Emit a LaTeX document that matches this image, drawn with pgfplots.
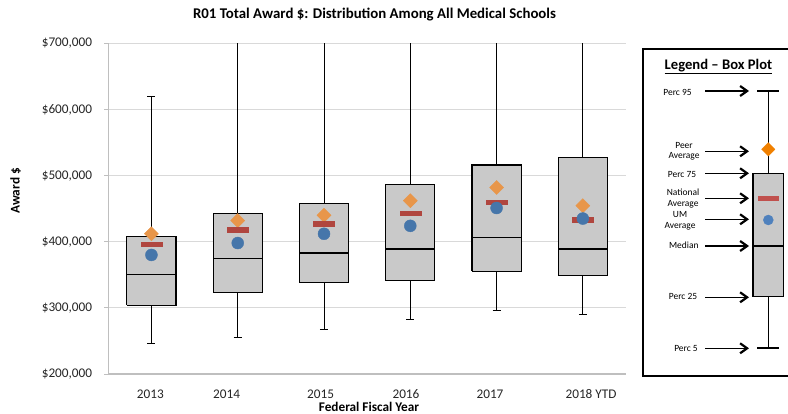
\documentclass[border=0pt]{standalone}
\usepackage{fontspec}
\setmainfont{Carlito}
\usepackage{pgfplots}
\usepackage{pgfplotstable}
\pgfplotsset{compat=1.18}
\usetikzlibrary{arrows.meta}
\definecolor{boxgray}{HTML}{C9C9C9}
\definecolor{peer}{HTML}{E8964A}
\definecolor{natl}{HTML}{B0463F}
\definecolor{um}{HTML}{4676AA}
\definecolor{gridc}{HTML}{D9D9D9}
\definecolor{axisc}{HTML}{BFBFBF}
\definecolor{lpeer}{HTML}{F08000}
\definecolor{lnatl}{HTML}{C0504D}
\definecolor{lum}{HTML}{4F81BD}
% values in thousands of dollars
% perc5, perc25, median, perc75, perc95 (perc95 beyond 700 for 2014-2018 YTD)
\pgfplotstableread{
x peer natl um
0 412 396.5 380
1 432 418 398
2 440 427 412
3 462 443 424
4 482 460 451
5 454.5 433 435
}\avgdata
\begin{document}
\begin{tikzpicture}
\path[use as bounding box] (0,0) rectangle (788bp,414bp);
\begin{axis}[
  at={(108.3bp,40bp)}, anchor=south west,
  width=517.7bp, height=330.7bp, scale only axis,
  xmin=-0.5, xmax=5.5, ymin=200, ymax=700,
  axis lines*=left,
  axis line style={axisc, line width=1.2bp},
  ymajorgrids, grid style={gridc, line width=1bp},
  ytick={200,300,400,500,600,700},
  yticklabels={{\$200,000},{\$300,000},{\$400,000},{\$500,000},{\$600,000},{\$700,000}},
  scaled y ticks=false,
  ytick style={axisc, line width=0.8bp},
  major tick length=4bp, tick align=outside,
  yticklabel style={anchor=east, inner sep=0pt, xshift=-12bp, font=\fontsize{13.3}{16}\selectfont, text=black!85},
  xtick={-0.012,0.872,1.961,2.950,3.924,5.095},
  xticklabels={2013,2014,2015,2016,2017,2018 YTD},
  xtick style={draw=none},
  xticklabel style={anchor=base, inner sep=0pt, yshift=-21bp, font=\fontsize{13.3}{16}\selectfont, text=black!85},
  unbounded coords=jump,
]
% whiskers (perc5 and perc95) with caps
\addplot[black, line width=1bp, mark=none] coordinates {
 (0,246) (0,619) (0,nan) (-0.0465,619) (0.0465,619) (0,nan) (-0.0465,246) (0.0465,246) (0,nan)
 (1,254.5) (1,780) (1,nan) (0.9535,254.5) (1.0465,254.5) (1,nan)
 (2,267) (2,800) (2,nan) (1.9535,267) (2.0465,267) (2,nan)
 (3,282) (3,820) (3,nan) (2.9535,282) (3.0465,282) (3,nan)
 (4,295.5) (4,840) (4,nan) (3.9535,295.5) (4.0465,295.5) (4,nan)
 (5,290) (5,860) (5,nan) (4.9535,290) (5.0465,290)
};
% boxes (perc25 to perc75)
\addplot[draw=black, fill=boxgray, line width=1.1bp, mark=none] coordinates {(-0.285,303.6) (0.285,303.6) (0.285,408) (-0.285,408) (-0.285,303.6)};
\addplot[draw=black, fill=boxgray, line width=1.1bp, mark=none] coordinates {(0.715,323) (1.285,323) (1.285,443) (0.715,443) (0.715,323)};
\addplot[draw=black, fill=boxgray, line width=1.1bp, mark=none] coordinates {(1.715,339) (2.285,339) (2.285,458) (1.715,458) (1.715,339)};
\addplot[draw=black, fill=boxgray, line width=1.1bp, mark=none] coordinates {(2.715,341) (3.285,341) (3.285,486) (2.715,486) (2.715,341)};
\addplot[draw=black, fill=boxgray, line width=1.1bp, mark=none] coordinates {(3.715,355) (4.285,355) (4.285,516) (3.715,516) (3.715,355)};
\addplot[draw=black, fill=boxgray, line width=1.1bp, mark=none] coordinates {(4.715,349) (5.285,349) (5.285,527) (4.715,527) (4.715,349)};
% medians
\addplot[black, line width=1.1bp, mark=none] coordinates {
 (-0.285,351) (0.285,351) (0,nan) (0.715,375) (1.285,375) (1,nan) (1.715,383) (2.285,383) (2,nan)
 (2.715,389) (3.285,389) (3,nan) (3.715,406) (4.285,406) (4,nan) (4.715,389) (5.285,389)
};
\addplot[only marks, mark=square*, mark size=4.95bp, color=peer, mark options={rotate=45, draw=none, fill=peer}] table[x=x, y=peer] {\avgdata};
\addplot[only marks, mark=square*, mark size=2.3bp, color=natl, mark options={xscale=4.57, draw=none, fill=natl}] table[x=x, y=natl] {\avgdata};
\addplot[only marks, mark=*, mark size=6bp, color=um, mark options={draw=none, fill=um}] table[x=x, y=um] {\avgdata};
\end{axis}
% legend panel
\begin{axis}[
  at={(643bp,38bp)}, anchor=south west,
  width=146bp, height=327bp, scale only axis,
  xmin=643, xmax=789, ymin=38, ymax=365,
  axis lines=box, axis line style={black, line width=1.2bp},
  xtick=\empty, ytick=\empty,
  clip=false, unbounded coords=jump,
]
\addplot[black, line width=1.1bp, mark=none] coordinates {(768.3,66) (768.3,323) (768.3,nan) (757.3,323) (779.3,323) (768.3,nan) (757.3,66) (779.3,66)};
\addplot[draw=black, fill=boxgray, line width=1.1bp, mark=none] coordinates {(753,117.3) (783.5,117.3) (783.5,240.7) (753,240.7) (753,117.3)};
\addplot[black, line width=1.1bp, mark=none] coordinates {(753,168) (783.5,168)};
\addplot[only marks, mark=square*, mark size=4.7bp, color=lpeer, mark options={rotate=45, draw=none, fill=lpeer}] coordinates {(768.3,264.7)};
\addplot[only marks, mark=square*, mark size=2bp, color=lnatl, mark options={xscale=5, draw=none, fill=lnatl}] coordinates {(768.3,215.3)};
\addplot[only marks, mark=*, mark size=5bp, color=lum, mark options={draw=none, fill=lum}] coordinates {(768.3,194)};
\end{axis}
% texts
\node[anchor=base, font=\bfseries\fontsize{14.9}{18}\selectfont] at (374.5bp,395bp) {R01 Total Award \$: Distribution Among All Medical Schools};
\node[anchor=base, font=\bfseries\fontsize{13.3}{16}\selectfont] at (369bp,3bp) {Federal Fiscal Year};
\node[anchor=base, rotate=90, font=\bfseries\fontsize{13.3}{16}\selectfont] at (19.5bp,223bp) {Award \$};
\node[anchor=base, font=\bfseries\fontsize{14.7}{17}\selectfont] at (718.5bp,344.7bp) {\underline{Legend -- Box Plot}};
\begin{scope}[font=\fontsize{9.5}{11}\selectfont, every node/.style={align=center, inner sep=0pt}]
\node at (677.5bp,322bp) {Perc 95};
\node at (684bp,262.7bp) {Peer\\Average};
\node at (682bp,239.7bp) {Perc 75};
\node at (683bp,215.5bp) {National\\Average};
\node at (680bp,193.5bp) {UM\\Average};
\node at (683.8bp,169bp) {Median};
\node at (683bp,118bp) {Perc 25};
\node at (686bp,66bp) {Perc 5};
\end{scope}
\begin{scope}[line width=1.1bp, -{Straight Barb[length=7bp, width=10bp, line width=2.2bp]}]
\foreach \yy in {323,262.7,240.7,215.7,194.7,168,116.7,65.7} {
  \draw (705bp,\yy bp) -- (749bp,\yy bp);
}
\end{scope}
\end{tikzpicture}
\end{document}
